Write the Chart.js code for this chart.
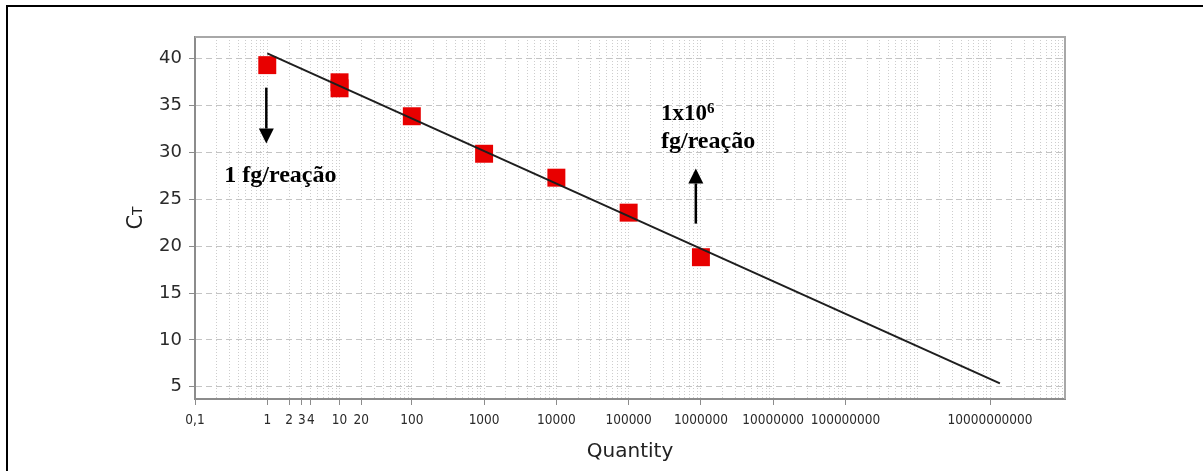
<!DOCTYPE html>
<html><head><meta charset="utf-8">
<script src="https://cdn.jsdelivr.net/npm/chart.js@4.4.1/dist/chart.umd.min.js"></script>
<style>html,body{margin:0;padding:0;background:#fff;}canvas{display:block;}</style>
</head><body>
<canvas id="c" width="1203" height="471"></canvas>
<script>
// ---- data ----
const quantities = [1, 10, 10, 100, 1000, 10000, 100000, 1000000];
const ctValues   = [39.3, 37.47, 36.83, 33.85, 29.85, 27.3, 23.57, 18.82];
const fitQuantities = [1, 1.37e10];
const fitCt         = [40.56, 5.36];
const xTickValues = [0.1, 1, 2, 3, 4, 10, 20, 100, 1000, 10000, 100000, 1000000, 10000000, 100000000, 10000000000];
const xTickLabels = ['0,1','1','2','3','4','10','20','100','1000','10000','100000','1000000','10000000','100000000','10000000000'];
const yTickValues = [5, 10, 15, 20, 25, 30, 35, 40];
const gridDecades = [-1, 0, 1, 2, 3, 4, 5, 6, 7, 8, 9, 10];
const gridMultipliers = [1, 2, 3, 4, 5, 6, 7, 8, 9];
const xTitle = 'Quantity';
const annotationTexts = { low: '1 fg/reação', highA: '1x10', highSup: '6', highB: 'fg/reação' };

// ---- helpers ----
const gridValues = [];
gridDecades.forEach(k => gridMultipliers.forEach(m => gridValues.push(m * Math.pow(10, k))));
gridValues.push(1e11);
function labelIndex(v) {
  return xTickValues.findIndex(t => Math.abs(Math.log10(v) - Math.log10(t)) < 1e-6);
}

// annotation placement in data space
const notes = {
  downArrow: { x: 0.97, yFrom: 36.9, yTo: 30.94 },
  lowText:   { x: 0.254, y: 26.8 },
  upArrow:   { x: 8.5e5, yFrom: 22.4, yTo: 28.28 },
  highTextA: { x: 2.8e5, y: 33.4 },
  highTextB: { x: 2.8e5, y: 30.5 }
};
const annFont = '"Liberation Serif", "Times New Roman", serif';

function arrow(ctx, x, y1, y2) {
  const dir = y2 > y1 ? 1 : -1;
  const head = 15, half = 7.5;
  ctx.save();
  ctx.strokeStyle = '#000'; ctx.fillStyle = '#000'; ctx.lineWidth = 2.5;
  ctx.beginPath(); ctx.moveTo(x, y1); ctx.lineTo(x, y2 - dir * head); ctx.stroke();
  ctx.beginPath(); ctx.moveTo(x, y2); ctx.lineTo(x - half, y2 - dir * head); ctx.lineTo(x + half, y2 - dir * head); ctx.closePath(); ctx.fill();
  ctx.restore();
}

const decor = {
  id: 'decor',
  beforeDraw(chart) {
    const {ctx} = chart;
    ctx.save(); ctx.fillStyle = '#fff'; ctx.fillRect(0, 0, chart.width, chart.height); ctx.restore();
  },
  afterDatasetsDraw(chart) {
    const {ctx, scales: {x, y}} = chart;
    arrow(ctx, x.getPixelForValue(notes.downArrow.x), y.getPixelForValue(notes.downArrow.yFrom), y.getPixelForValue(notes.downArrow.yTo));
    arrow(ctx, x.getPixelForValue(notes.upArrow.x), y.getPixelForValue(notes.upArrow.yFrom), y.getPixelForValue(notes.upArrow.yTo));
    ctx.save();
    ctx.fillStyle = '#000'; ctx.textBaseline = 'alphabetic'; ctx.textAlign = 'left';
    ctx.font = 'bold 24px ' + annFont;
    ctx.fillText(annotationTexts.low, x.getPixelForValue(notes.lowText.x), y.getPixelForValue(notes.lowText.y));
    const ax = x.getPixelForValue(notes.highTextA.x), ay = y.getPixelForValue(notes.highTextA.y);
    ctx.font = 'bold 23px ' + annFont;
    ctx.fillText(annotationTexts.highA, ax, ay);
    const w = ctx.measureText(annotationTexts.highA).width;
    ctx.font = 'bold 15px ' + annFont;
    ctx.fillText(annotationTexts.highSup, ax + w, ay - 7);
    ctx.font = 'bold 24px ' + annFont;
    ctx.fillText(annotationTexts.highB, x.getPixelForValue(notes.highTextB.x), y.getPixelForValue(notes.highTextB.y));
    ctx.restore();
  },
  afterDraw(chart) {
    const {ctx, chartArea: a} = chart;
    ctx.save();
    ctx.strokeStyle = '#a8a8a8'; ctx.lineWidth = 2;
    ctx.beginPath(); ctx.moveTo(a.left, a.top); ctx.lineTo(a.right, a.top); ctx.lineTo(a.right, a.bottom); ctx.stroke();
    ctx.fillStyle = '#000';
    ctx.fillRect(6, 5, chart.width - 6, 2);
    ctx.fillRect(6, 5, 2, chart.height - 5);
    const cy = (a.top + a.bottom) / 2;
    ctx.fillStyle = '#222';
    ctx.font = '21px "DejaVu Sans", sans-serif';
    const wc = ctx.measureText('C').width;
    ctx.font = '14px "DejaVu Sans", sans-serif';
    const wt = ctx.measureText('T').width;
    ctx.translate(142, cy + (wc + wt) / 2);
    ctx.rotate(-Math.PI / 2);
    ctx.textBaseline = 'alphabetic'; ctx.textAlign = 'left';
    ctx.font = '21px "DejaVu Sans", sans-serif';
    ctx.fillText('C', 0, 0);
    ctx.font = '14px "DejaVu Sans", sans-serif';
    ctx.fillText('T', wc, 0);
    ctx.restore();
  }
};

new Chart(document.getElementById('c'), {
  type: 'scatter',
  data: {
    datasets: [
      {
        label: 'Fit',
        data: fitQuantities.map((q, i) => ({x: q, y: fitCt[i]})),
        showLine: true, borderColor: '#1e1e1e', borderWidth: 2, pointRadius: 0, order: 0
      },
      {
        label: 'Standards',
        data: quantities.map((q, i) => ({x: q, y: ctValues[i]})),
        pointStyle: 'rect', pointRadius: 12.7, backgroundColor: '#e80000', borderWidth: 0, order: 1
      }
    ]
  },
  options: {
    responsive: false, animation: false,
    layout: { padding: { left: 0, top: 37, right: 138, bottom: 0 } },
    plugins: { legend: { display: false }, tooltip: { enabled: false } },
    scales: {
      x: {
        type: 'logarithmic', min: 0.1, max: 1.09e11,
        afterBuildTicks: s => { s.ticks = gridValues.map(v => ({value: v})); },
        afterFit: s => { s.height = 72; },
        ticks: {
          autoSkip: false, maxRotation: 0, minRotation: 0, padding: 7, color: '#2a2a2a',
          font: { family: '"DejaVu Sans Condensed", "DejaVu Sans", sans-serif', size: 13.5 },
          callback: v => { const i = labelIndex(v); return i >= 0 ? xTickLabels[i] : ''; }
        },
        grid: {
          color: '#cdcdcd', lineWidth: 1, tickLength: 6,
          tickColor: c => (c.tick && labelIndex(c.tick.value) >= 0) ? '#8c8c8c' : 'rgba(0,0,0,0)'
        },
        border: { display: true, color: '#8c8c8c', width: 2, dash: [1, 2] },
        title: { display: true, text: xTitle, color: '#222', font: { family: '"DejaVu Sans", sans-serif', size: 20 }, padding: { top: 0, bottom: 7 } }
      },
      y: {
        type: 'linear', min: 3.7, max: 42.3,
        afterBuildTicks: s => { s.ticks = yTickValues.map(v => ({value: v})); },
        afterFit: s => { s.width = 195; },
        ticks: { padding: 7, color: '#2a2a2a', font: { family: '"DejaVu Sans", sans-serif', size: 18 } },
        grid: { color: '#c4c4c4', lineWidth: 1, tickLength: 6, tickColor: '#8c8c8c' },
        border: { display: true, color: '#8c8c8c', width: 2, dash: [6, 4] }
      }
    }
  },
  plugins: [decor]
});
</script>
</body></html>
